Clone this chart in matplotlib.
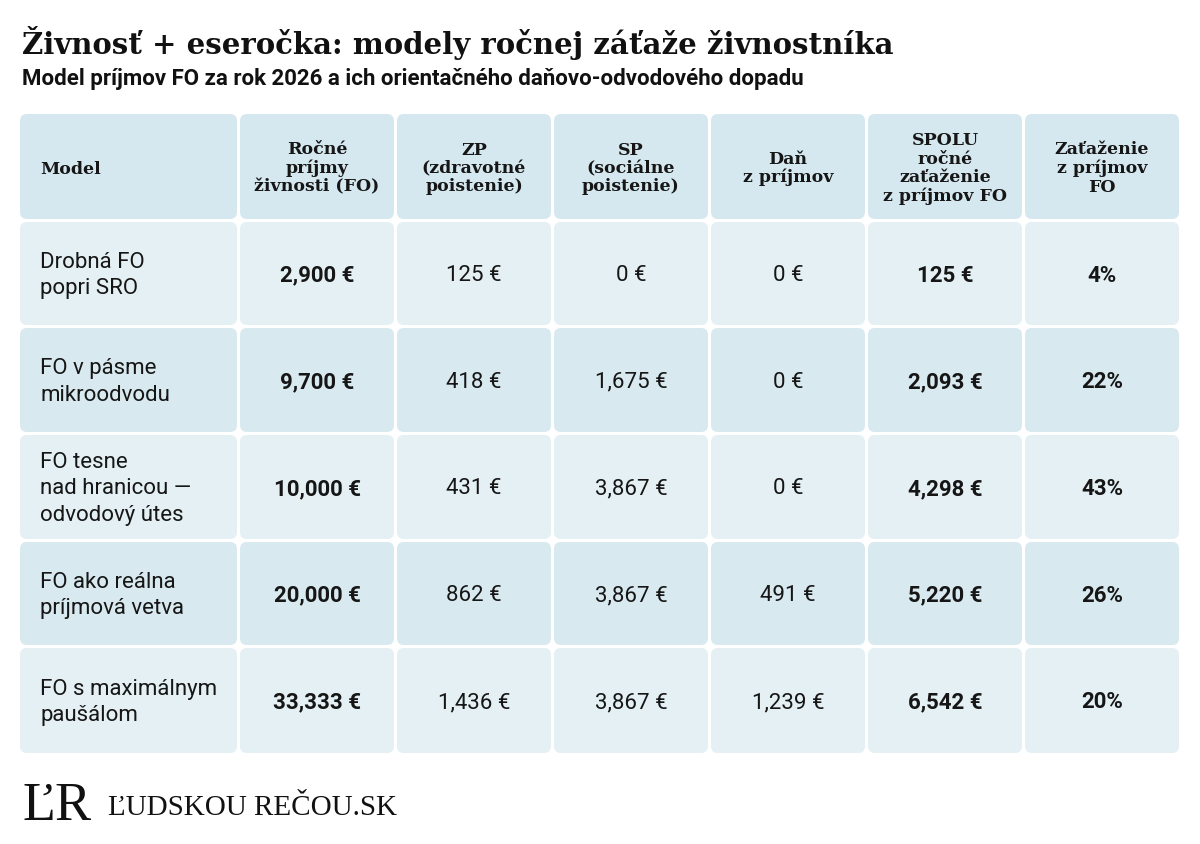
import matplotlib
matplotlib.use("Agg")
import matplotlib.pyplot as plt
from matplotlib.patches import FancyBboxPatch

# ---- data ----
headers = ["Model", "Ročné\npríjmy\nživnosti (FO)", "ZP\n(zdravotné\npoistenie)",
           "SP\n(sociálne\npoistenie)", "Daň\nz príjmov",
           "SPOLU\nročné\nzaťaženie\nz príjmov FO", "Zaťaženie\nz príjmov\nFO"]
models = ["Drobná FO\npopri SRO", "FO v pásme\nmikroodvodu",
          "FO tesne\nnad hranicou —\nodvodový útes",
          "FO ako reálna\npríjmová vetva", "FO s maximálnym\npaušálom"]
income = [2900, 9700, 10000, 20000, 33333]
zp = [125, 418, 431, 862, 1436]
sp = [0, 1675, 3867, 3867, 3867]
tax = [0, 0, 0, 491, 1239]
total = [125, 2093, 4298, 5220, 6542]
burden_pct = [4, 22, 43, 26, 20]

title = "Živnosť + eseročka: modely ročnej záťaže živnostníka"
subtitle = "Model príjmov FO za rok 2026 a ich orientačného daňovo-odvodového dopadu"
logo_mark = "ĽR"
logo_text = "ĽUDSKOU REČOU.SK"

# ---- layout ----
W, H = 1200, 844
fig = plt.figure(figsize=(W / 100, H / 100), dpi=100)
ax = fig.add_axes([0, 0, 1, 1])
ax.set_xlim(0, W)
ax.set_ylim(H, 0)
ax.axis("off")

col_lefts = [20, 240, 397, 554, 711, 868, 1025]
col_widths = [217, 154, 154, 154, 154, 154, 154]
row_tops = [114, 222, 328, 435, 542, 648]
row_heights = [105, 103, 104, 104, 103, 105]

hdr_color = "#d6e8ef"
light = "#e4f0f3"
dark = "#d8e9ef"
txt = "#161616"
slab = "DejaVu Serif"
sans = "Roboto"

def cell(x, y, w, h, color):
    p = FancyBboxPatch((x, y), w, h, boxstyle="round,pad=0,rounding_size=7",
                       fc=color, ec="none")
    ax.add_patch(p)

# header
for j in range(7):
    cell(col_lefts[j], row_tops[0], col_widths[j], row_heights[0], hdr_color)
    cy = row_tops[0] + row_heights[0] / 2
    if j == 0:
        ax.text(col_lefts[j] + 20, cy + 3, headers[j], ha="left", va="center",
                fontsize=12.5, fontweight="bold", family=slab, color=txt)
    else:
        ax.text(col_lefts[j] + col_widths[j] / 2, cy + 2, headers[j], ha="center",
                va="center", fontsize=12.5, fontweight="bold", family=slab,
                color=txt, linespacing=1.1)

def eur(v):
    return f"{v:,} €"

for i in range(len(models)):
    top = row_tops[i + 1]
    h = row_heights[i + 1]
    color = light if i % 2 == 0 else dark
    cy = top + h / 2
    vals = [eur(income[i]), eur(zp[i]), eur(sp[i]), eur(tax[i]),
            eur(total[i]), f"{burden_pct[i]}%"]
    bold = [True, False, False, False, True, True]
    for j in range(7):
        cell(col_lefts[j], top, col_widths[j], h, color)
    ax.text(col_lefts[0] + 20, cy + 2, models[i], ha="left", va="center",
            fontsize=16, family=sans, color=txt, linespacing=1.36)
    for k, v in enumerate(vals):
        j = k + 1
        ax.text(col_lefts[j] + col_widths[j] / 2, cy + 2, v, ha="center", va="center",
                fontsize=16, family=sans, color=txt,
                fontweight="bold" if bold[k] else "normal")

# titles
ax.text(22, 43, title, ha="left", va="center", fontsize=21, fontweight="bold",
        family=slab, color="#111111")
ax.text(22, 79, subtitle, ha="left", va="center", fontsize=16,
        fontweight="bold", family=sans, color="#111111")

# logo
ax.text(22, 820, logo_mark, ha="left", va="baseline", fontsize=39,
        family="Liberation Serif", color="#111111")
ax.text(108, 815, logo_text, ha="left", va="baseline", fontsize=21,
        family="Liberation Serif", color="#111111")

fig.savefig("out.png", dpi=100, facecolor="white")
